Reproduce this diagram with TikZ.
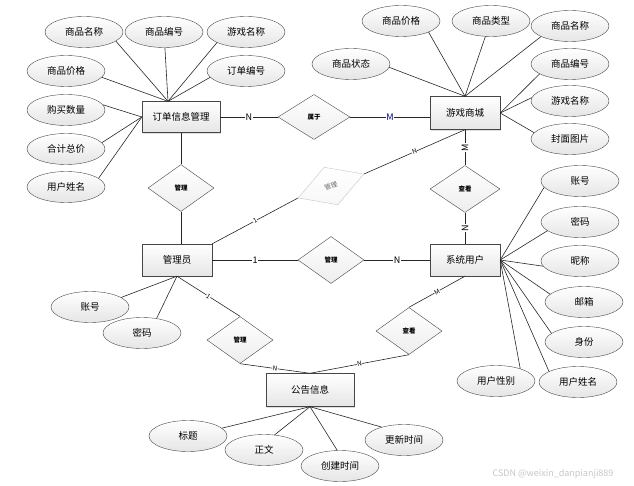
\documentclass[tikz,border=0pt]{standalone}
\usepackage{fontspec}
\newfontfamily\cjk{Noto Sans CJK SC}
\usetikzlibrary{shapes.geometric,shadows}

\begin{document}
\begin{tikzpicture}[x=1pt, y=-1pt, font=\cjk,
    entity/.style={rectangle, draw=gray!55!black, top color=white, bottom color=gray!20,
        drop shadow={opacity=0.25, shadow xshift=1.2pt, shadow yshift=-1.2pt},
        minimum width=70pt, minimum height=32pt, inner sep=0pt, font=\cjk\fontsize{9.5}{11}\selectfont},
    attr/.style={ellipse, draw=gray!55!black, top color=white, bottom color=gray!20,
        minimum width=78pt, minimum height=31pt, inner sep=0pt, font=\cjk\fontsize{9.5}{11}\selectfont},
    rel/.style={diamond, draw=gray!55!black, top color=white, bottom color=gray!14,
        minimum width=66pt, minimum height=47pt, inner sep=0pt, font=\cjk\bfseries\fontsize{6.5}{7}\selectfont},
    link/.style={draw=gray!30!black, line width=0.6pt},
    card/.style={fill=white, inner sep=0.6pt, font=\cjk\fontsize{9}{9}\selectfont},
    tag/.style={fill=white, inner sep=0.3pt, sloped, font=\cjk\fontsize{6.5}{7}\selectfont}
]
\useasboundingbox (0,0) rectangle (634,486);

% entities
\node[entity, minimum width=78pt, minimum height=31pt] (order) at (181,117) {订单信息管理};
\node[entity, minimum height=33pt] (shop) at (465,113) {游戏商城};
\node[entity] (admin) at (177,260) {管理员};
\node[entity] (user) at (465,260) {系统用户};
\node[entity, minimum width=88pt, minimum height=33pt] (notice) at (310,390) {公告信息};

% relations
\node[rel, minimum width=72pt, minimum height=45pt] (belong) at (314,117) {属于};
\node[rel] (mngorder) at (181,188) {管理};
\node[rel, rotate=20, minimum width=70pt, minimum height=40pt, draw=gray!45, bottom color=gray!6,
    text=gray!80!black] (mngshop) at (331,186) {\mdseries 管理};
\node[rel, minimum width=70pt] (viewshop) at (465,189) {查看};
\node[rel] (mnguser) at (331,260) {管理};
\node[rel] (viewnote) at (409,331) {查看};
\node[rel] (mngnote) at (240,340) {管理};

% order attributes
\node[attr] (oname) at (84,32) {商品名称};
\node[attr] (oid) at (164,32) {商品编号};
\node[attr] (ogame) at (246,32) {游戏名称};
\node[attr] (ono) at (246,71) {订单编号};
\node[attr] (oprice) at (66,71) {商品价格};
\node[attr] (onum) at (66,110) {购买数量};
\node[attr] (ototal) at (66,149) {合计总价};
\node[attr] (ouser) at (66,187) {用户姓名};
\coordinate (otop) at ([xshift=-13pt]order.north);

\draw[link] (oname.344) -- (otop);
\draw[link] (oid) -- (otop);
\draw[link] (ogame.200) -- (otop);
\draw[link] (ono.190) -- (otop);
\draw[link] (oprice.350) -- (otop);
\draw[link] (onum.8) -- (order.west);
\draw[link] (ototal.10) -- (order.west);
\draw[link] (ouser.15) -- (order.west);

% shop attributes
\node[attr] (sprice) at (401,21) {商品价格};
\node[attr] (stype) at (491,21) {商品类型};
\node[attr] (sname) at (570,26) {商品名称};
\node[attr] (sid) at (570,64) {商品编号};
\node[attr] (sgame) at (570,101) {游戏名称};
\node[attr] (spic) at (570,139) {封面图片};
\node[attr] (sstate) at (351,64) {商品状态};

\draw[link] (sstate.355) -- (shop.north);
\draw[link] (sprice.338) -- (shop.north);
\draw[link] (stype.250) -- (shop.north);
\draw[link] (sname.200) -- (shop.north);
\draw[link] (sid.198) -- (shop.east);
\draw[link] (sgame.175) -- (shop.east);
\draw[link] (spic.170) -- (shop.east);

% user attributes
\node[attr] (uacc) at (580,181) {账号};
\node[attr] (upwd) at (580,222) {密码};
\node[attr] (unick) at (580,261) {昵称};
\node[attr] (umail) at (584,302) {邮箱};
\node[attr] (urole) at (584,342) {身份};
\node[attr] (uname) at (578,382) {用户姓名};
\node[attr] (usex) at (496,381) {用户性别};

\draw[link] (uacc.190) -- (user.east);
\draw[link] (upwd.195) -- (user.east);
\draw[link] (unick.188) -- (user.east);
\draw[link] (umail.167) -- (user.east);
\draw[link] (urole.165) -- (user.east);
\draw[link] (uname.160) -- (user.east);
\draw[link] (usex.27) -- (user.east);

% admin attributes
\node[attr] (aacc) at (90,307) {账号};
\node[attr] (apwd) at (142,333) {密码};
\draw[link] (aacc.17) -- (admin.south);
\draw[link] (apwd.45) -- (admin.south);

% notice attributes
\node[attr] (ntitle) at (188,436) {标题};
\node[attr] (ntext) at (264,450) {正文};
\node[attr] (ncreate) at (340,466) {创建时间};
\node[attr] (nupdate) at (404,440) {更新时间};
\draw[link] (ntitle.13) -- (notice.south);
\draw[link] (ntext.55) -- (notice.south);
\draw[link] (ncreate.100) -- (notice.south);
\draw[link] (nupdate.150) -- (notice.south);

% relationship lines
\draw[link] (order) -- node[card]{N} (belong);
\draw[link] (belong.east) -- node[card, text=blue!45!black]{M} (belong.east -| shop.west);
\draw[link] (order) -- (mngorder);
\draw[link] (mngorder) -- (mngorder |- admin.north);
\draw[link] (admin.north east) -- node[tag]{1} (mngshop.west);
\draw[link] (mngshop.east) -- node[tag]{N} (shop.south);
\draw[link] (shop) -- node[card, rotate=90]{M} (viewshop);
\draw[link] (viewshop) -- node[card, rotate=90]{N} (user);
\draw[link] (admin) -- node[card]{1} (mnguser);
\draw[link] (mnguser) -- node[card]{N} (user);
\draw[link] (user.south) -- node[tag]{M} (viewnote.north);
\draw[link] (viewnote.south) -- node[tag]{N} (notice.north);
\draw[link] (admin.south) -- node[tag]{1} (mngnote.north);
\draw[link] (mngnote.south) -- node[tag]{N} (notice.north);

\node[text=gray!45, font=\cjk\fontsize{9}{10}\selectfont] (mark) at (553,474) {CSDN @weixin\_danpianji889};
\end{tikzpicture}
\end{document}
